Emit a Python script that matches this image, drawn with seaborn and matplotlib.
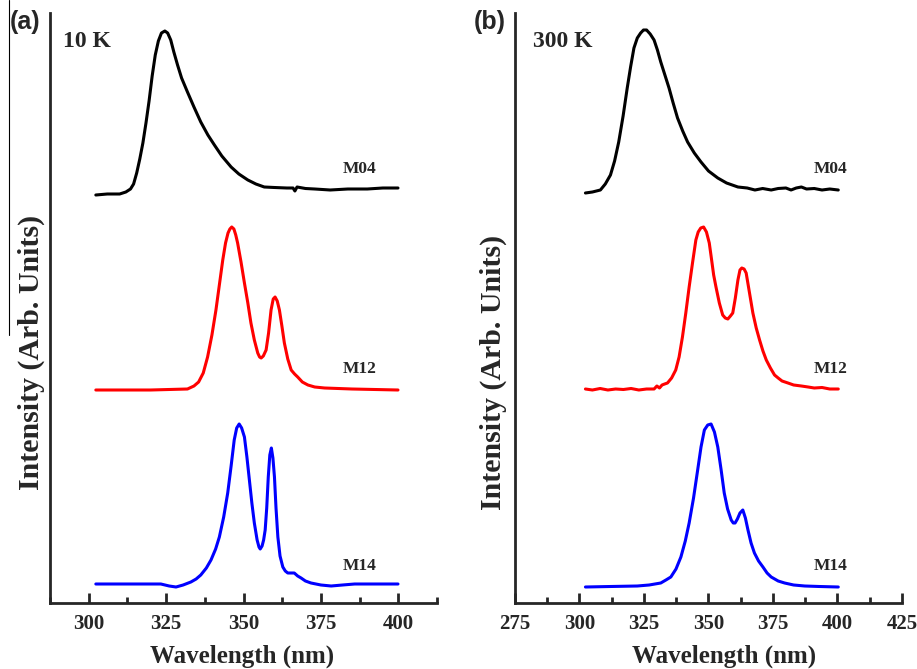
import matplotlib
matplotlib.use('Agg')
import matplotlib.pyplot as plt
from matplotlib.ticker import MultipleLocator, FixedLocator
from matplotlib.lines import Line2D
import seaborn as sns

# spectra (wavelength in nm, intensity with curve offset)
# (a) 10 K
wl_a_m04 = [302.3, 306, 310, 312, 313.5, 314.5, 315.5, 316.5, 317.5, 318.5, 319.5, 320.5,
            321.5, 322.5, 323.5, 324.6, 325.5, 326.5, 327.5, 328.7, 330, 331.9, 334, 336.2,
            338.5, 340.6, 343, 346, 348.5, 351.4, 354, 356.7, 360, 364, 366, 366.6, 367.3,
            370, 373, 378, 383.7, 390, 395, 399.9]
int_a_m04 = [4.08, 4.09, 4.09, 4.11, 4.14, 4.19, 4.30, 4.44, 4.60, 4.80, 5.02, 5.27,
             5.48, 5.62, 5.70, 5.72, 5.70, 5.63, 5.51, 5.38, 5.25, 5.11, 4.96, 4.81,
             4.68, 4.58, 4.47, 4.36, 4.29, 4.23, 4.19, 4.16, 4.155, 4.15, 4.15, 4.12, 4.16,
             4.145, 4.14, 4.13, 4.14, 4.14, 4.15, 4.15]

wl_a_m12 = [302.3, 320, 331.9, 334, 335.5, 337, 338.4, 339.8, 341.1, 342.2, 343.3, 344.2,
            345, 345.6, 346.2, 346.9, 347.5, 348.1, 349.2, 350.3, 351.4, 352.4, 353.5,
            354.6, 355.2, 355.7, 356.4, 357.3, 358.1, 358.9, 359.6, 360.2, 360.9, 361.6,
            362.4, 363.2, 364.3, 365.4, 366.5, 367.5, 369, 370.8, 373, 376.2, 385, 399.9]
int_a_m12 = [2.13, 2.13, 2.14, 2.17, 2.21, 2.30, 2.46, 2.68, 2.93, 3.18, 3.43, 3.60,
             3.70, 3.74, 3.76, 3.74, 3.68, 3.60, 3.41, 3.20, 3.00, 2.80, 2.63,
             2.50, 2.46, 2.45, 2.47, 2.53, 2.70, 2.93, 3.04, 3.06, 3.02, 2.93,
             2.77, 2.60, 2.44, 2.33, 2.29, 2.26, 2.21, 2.18, 2.16, 2.15, 2.14, 2.13]

wl_a_m14 = [302.3, 315, 323.3, 326, 328.2, 330.5, 333, 334.7, 336.2, 338, 339.5, 341,
            342.2, 343.6, 344.9, 346, 347, 347.8, 348.6, 349.4, 350.3, 351.1, 351.9,
            352.7, 353.5, 354.4, 355.0, 355.4, 356.0, 356.5, 357.0, 357.5, 358.0, 358.5,
            359.0, 359.5, 360.0, 360.5, 361.1, 361.8, 362.7, 363.5, 364.3, 365.3, 366.4,
            367.5, 368.6, 370, 371.8, 375, 378.3, 382, 385.9, 399.9]
int_a_m14 = [0.19, 0.19, 0.19, 0.17, 0.16, 0.18, 0.21, 0.24, 0.28, 0.35, 0.43, 0.54,
             0.66, 0.86, 1.10, 1.37, 1.63, 1.75, 1.79, 1.75, 1.66, 1.46, 1.23,
             1.00, 0.80, 0.63, 0.56, 0.54, 0.57, 0.63, 0.73, 0.95, 1.26, 1.48,
             1.55, 1.45, 1.26, 0.95, 0.66, 0.47, 0.36, 0.32, 0.30, 0.30, 0.30,
             0.27, 0.25, 0.22, 0.20, 0.18, 0.17, 0.18, 0.19, 0.19]

# (b) 300 K
wl_b_m04 = [302.3, 305, 308.1, 310, 312, 313.6, 315.2, 316.9, 318.5, 319.8, 321.1, 322.4,
            323.7, 324.8, 326.0, 327.4, 328.9, 330.2, 331.5, 333.1, 334.7, 336.3, 338.0,
            340, 341.9, 344.5, 347.1, 350, 353.6, 357, 361.4, 365, 368, 371, 374.3, 377,
            380, 382, 384, 386, 388, 391, 394, 397, 400.3]
int_b_m04 = [4.10, 4.11, 4.13, 4.19, 4.28, 4.42, 4.61, 4.87, 5.15, 5.36, 5.55, 5.65,
             5.70, 5.73, 5.73, 5.69, 5.63, 5.53, 5.41, 5.28, 5.15, 5.00, 4.85,
             4.72, 4.61, 4.50, 4.41, 4.32, 4.25, 4.20, 4.16, 4.15, 4.13, 4.145, 4.13, 4.145,
             4.15, 4.13, 4.15, 4.16, 4.14, 4.145, 4.13, 4.14, 4.13]

wl_b_m12 = [302.3, 305, 308, 311, 314, 317, 320, 323, 326, 328.9, 330, 331, 332, 333,
            334.1, 335.7, 337.3, 338.6, 339.9, 341.2, 342.5, 343.8, 345.1, 346.0, 347.0,
            348.1, 349.2, 350.3, 351.0, 352.0, 352.9, 354.2, 355.5, 356.5, 357.5, 358.5,
            359.4, 360.4, 361.4, 362.2, 362.9, 363.8, 364.6, 365.9, 367.2, 368.5, 369.8,
            371.1, 372.4, 374, 375.6, 377, 378.5, 380.8, 383, 386, 388.6, 391, 394, 397,
            400.3]
int_b_m12 = [2.14, 2.13, 2.145, 2.13, 2.14, 2.135, 2.145, 2.13, 2.14, 2.14, 2.17, 2.15,
             2.18, 2.19, 2.20, 2.25, 2.33, 2.46, 2.66, 2.90, 3.16, 3.40, 3.63, 3.71,
             3.75, 3.76, 3.71, 3.60, 3.47, 3.28, 3.16, 3.00, 2.88, 2.85, 2.84, 2.87,
             2.90, 3.05, 3.23, 3.33, 3.35, 3.34, 3.30, 3.10, 2.90, 2.75, 2.63,
             2.52, 2.43, 2.35, 2.28, 2.25, 2.22, 2.20, 2.18, 2.17, 2.16, 2.15, 2.155, 2.14,
             2.14]

wl_b_m14 = [302.3, 312, 322.4, 327, 331.5, 333.5, 335.4, 337.4, 339.3, 341, 342.5, 344.2,
            345.8, 347.1, 348.4, 349.7, 351.0, 352.3, 353.6, 354.9, 356.1, 357.4, 358.8,
            359.6, 360.3, 361.2, 362.2, 363.3, 364.3, 365.3, 366.5, 367.8, 369.4, 371.1,
            372.7, 374.3, 377, 379.5, 383, 387.3, 393, 400.3]
int_b_m14 = [0.16, 0.165, 0.17, 0.18, 0.20, 0.23, 0.26, 0.34, 0.46, 0.62, 0.80, 1.05,
             1.33, 1.56, 1.73, 1.78, 1.79, 1.71, 1.56, 1.33, 1.10, 0.94, 0.83,
             0.80, 0.80, 0.84, 0.90, 0.93, 0.85, 0.73, 0.60, 0.50, 0.42, 0.36,
             0.30, 0.26, 0.22, 0.20, 0.18, 0.17, 0.165, 0.16]

sample_names = ['M04', 'M12', 'M14']
label_y = [4.26, 2.26, 0.29]
temps = ['10 K', '300 K']
panel_tags = ['(a)', '(b)']

sns.set_style('ticks')
plt.rcParams['font.family'] = ['Liberation Serif', 'DejaVu Serif']
plt.rcParams['font.weight'] = 'bold'

fig = plt.figure(figsize=(9.17, 6.69), dpi=100)
ax_a = fig.add_axes([50 / 917, 66 / 669, 387 / 917, 590 / 669])
ax_b = fig.add_axes([515 / 917, 66 / 669, 387 / 917, 590 / 669])

colors = ['black', '#ff0000', '#0000ff']
panels = [
    (ax_a, [(wl_a_m04, int_a_m04), (wl_a_m12, int_a_m12), (wl_a_m14, int_a_m14)]),
    (ax_b, [(wl_b_m04, int_b_m04), (wl_b_m12, int_b_m12), (wl_b_m14, int_b_m14)]),
]

for ax, curves in panels:
    for (wl, inten), c in zip(curves, colors):
        sns.lineplot(x=wl, y=inten, ax=ax, color=c, linewidth=2.2,
                     estimator=None, sort=False)

# axes cosmetics
ax_a.set_xlim(287.5, 412.5)
ax_a.xaxis.set_major_locator(FixedLocator([300, 325, 350, 375, 400]))
ax_b.set_xlim(275, 425)
ax_b.xaxis.set_major_locator(MultipleLocator(25))

label_x = [382.0, 390.7]
for i, ax in enumerate([ax_a, ax_b]):
    ax.set_ylim(0, 5.9)
    ax.set_yticks([])
    ax.xaxis.set_minor_locator(MultipleLocator(12.5))
    sns.despine(ax=ax)
    for s in ['left', 'bottom']:
        ax.spines[s].set_linewidth(2)
    ax.tick_params(axis='x', which='major', direction='in', length=7, width=2,
                   labelsize=15, pad=8)
    ax.tick_params(axis='x', which='minor', direction='in', length=4.5, width=2)
    for t in ax.get_xticklabels():
        t.set_fontweight('bold')
    ax.set_xlabel('Wavelength (nm)', fontsize=18, fontweight='bold')
    ax.set_ylabel('Intensity (Arb. Units)', fontsize=21.5, fontweight='bold')
    ax.text(0.034 if i == 0 else 0.047, 0.942, temps[i], transform=ax.transAxes,
            fontsize=17, fontweight='bold', va='baseline')
    for name, ly in zip(sample_names, label_y):
        ax.text(label_x[i], ly, name, fontsize=12.5, fontweight='bold', va='bottom')

ax_a.xaxis.set_label_coords(0.496, -0.07)
ax_b.xaxis.set_label_coords(0.54, -0.07)
ax_a.yaxis.set_label_coords(-0.014, 0.425)
ax_b.yaxis.set_label_coords(-0.02, 0.39)

fig.text(10 / 917, 1 - 10 / 669, panel_tags[0], family='Liberation Sans',
         fontsize=18, fontweight='bold', va='top')
fig.text(474 / 917, 1 - 10 / 669, panel_tags[1], family='Liberation Sans',
         fontsize=18, fontweight='bold', va='top')

# thin crop line left of panel (a)
fig.add_artist(Line2D([9 / 917, 9 / 917], [1, 1 - 335 / 669], color='black',
                      linewidth=0.8, transform=fig.transFigure))

fig.savefig('out.png', dpi=100)
